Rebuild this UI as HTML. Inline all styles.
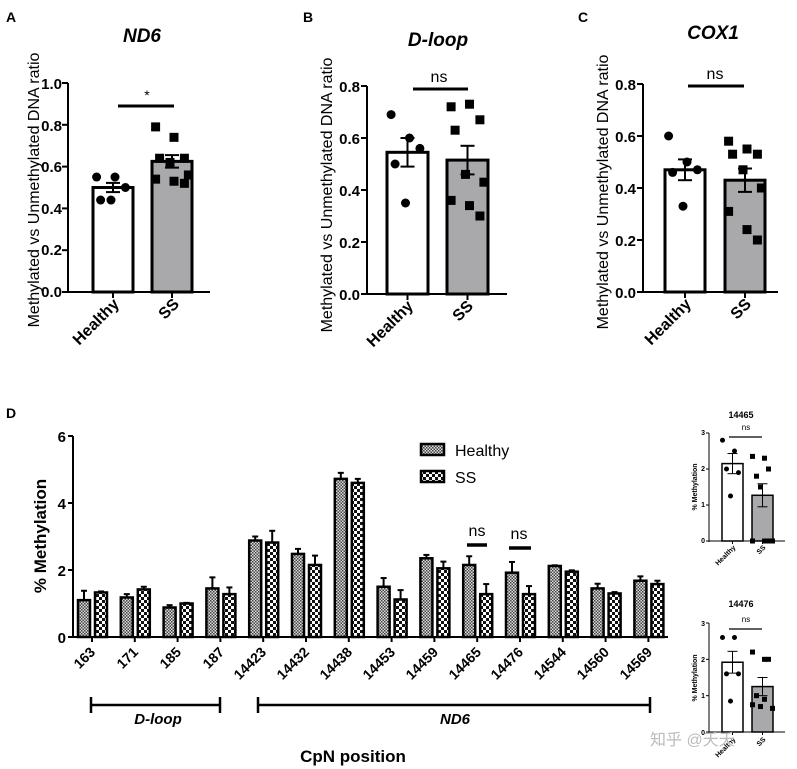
<!DOCTYPE html>
<html><head><meta charset="utf-8"><style>
html,body{margin:0;padding:0;background:#fff;}
svg{display:block;font-family:"Liberation Sans",Arial,sans-serif;}
.b{font-weight:bold;}
</style></head><body>
<svg id="s" width="797" height="769" viewBox="0 0 797 769" xmlns="http://www.w3.org/2000/svg">
<defs>
<pattern id="ph" width="3" height="3" patternUnits="userSpaceOnUse"><rect width="3" height="3" fill="#ddd"/><rect width="1.5" height="1.5" fill="#444"/><rect x="1.5" y="1.5" width="1.5" height="1.5" fill="#444"/></pattern>
<pattern id="ps" width="6" height="6" patternUnits="userSpaceOnUse"><rect width="6" height="6" fill="#fff"/><rect width="3" height="3" fill="#111"/><rect x="3" y="3" width="3" height="3" fill="#111"/></pattern>
</defs>
<g id="g"></g>
<text x="6" y="22" font-size="14" class="b">A</text>
<text x="303" y="22" font-size="14" class="b">B</text>
<text x="578" y="22" font-size="14" class="b">C</text>
<text x="6" y="418" font-size="14" class="b">D</text>
<text x="142" y="42" font-size="19" class="b" font-style="italic" text-anchor="middle">ND6</text>
<text x="438" y="46" font-size="19" class="b" font-style="italic" text-anchor="middle">D-loop</text>
<text x="713" y="39" font-size="19" class="b" font-style="italic" text-anchor="middle">COX1</text>
<text transform="translate(39,190) rotate(-90)" font-size="16" text-anchor="middle">Methylated vs Unmethylated DNA ratio</text>
<text transform="translate(332,195) rotate(-90)" font-size="16" text-anchor="middle">Methylated vs Unmethylated DNA ratio</text>
<text transform="translate(608,192) rotate(-90)" font-size="16" text-anchor="middle">Methylated vs Unmethylated DNA ratio</text>
<g font-size="15" class="b" text-anchor="end">
<text x="62" y="89">1.0</text><text x="62" y="131">0.8</text><text x="62" y="172">0.6</text><text x="62" y="214">0.4</text><text x="62" y="255">0.2</text><text x="62" y="297">0.0</text>
<text x="360" y="92">0.8</text><text x="360" y="144">0.6</text><text x="360" y="196">0.4</text><text x="360" y="248">0.2</text><text x="360" y="300">0.0</text>
<text x="636" y="90">0.8</text><text x="636" y="142">0.6</text><text x="636" y="194">0.4</text><text x="636" y="246">0.2</text><text x="636" y="298">0.0</text>
</g>
<g font-size="16" class="b" text-anchor="end">
<text transform="translate(120,305) rotate(-45)">Healthy</text>
<text transform="translate(180,305) rotate(-45)">SS</text>
<text transform="translate(414,307) rotate(-45)">Healthy</text>
<text transform="translate(474,307) rotate(-45)">SS</text>
<text transform="translate(692,305) rotate(-45)">Healthy</text>
<text transform="translate(752,305) rotate(-45)">SS</text>
</g>
<text x="147" y="100" font-size="14" text-anchor="middle">*</text>
<text x="439" y="82" font-size="16" text-anchor="middle">ns</text>
<text x="715" y="79" font-size="16" text-anchor="middle">ns</text>
<text transform="translate(46,536) rotate(-90)" font-size="17" class="b" text-anchor="middle">% Methylation</text>
<g font-size="15" class="b" text-anchor="end">
<text x="66" y="442">6</text><text x="66" y="509">4</text><text x="66" y="576">2</text><text x="66" y="643">0</text>
</g>
<g font-size="14" class="b" text-anchor="end">
<text transform="translate(96,653) rotate(-45)">163</text>
<text transform="translate(139,653) rotate(-45)">171</text>
<text transform="translate(182,653) rotate(-45)">185</text>
<text transform="translate(225,653) rotate(-45)">187</text>
<text transform="translate(267,653) rotate(-45)">14423</text>
<text transform="translate(310,653) rotate(-45)">14432</text>
<text transform="translate(353,653) rotate(-45)">14438</text>
<text transform="translate(396,653) rotate(-45)">14453</text>
<text transform="translate(439,653) rotate(-45)">14459</text>
<text transform="translate(482,653) rotate(-45)">14465</text>
<text transform="translate(524,653) rotate(-45)">14476</text>
<text transform="translate(567,653) rotate(-45)">14544</text>
<text transform="translate(610,653) rotate(-45)">14560</text>
<text transform="translate(653,653) rotate(-45)">14569</text>
</g>
<text x="455" y="456" font-size="16">Healthy</text>
<text x="455" y="483" font-size="16">SS</text>
<text x="477" y="536" font-size="16" text-anchor="middle">ns</text>
<text x="519" y="539" font-size="16" text-anchor="middle">ns</text>
<text x="158" y="724" font-size="15" class="b" font-style="italic" text-anchor="middle">D-loop</text>
<text x="455" y="724" font-size="15" class="b" font-style="italic" text-anchor="middle">ND6</text>
<text x="353" y="762" font-size="17" class="b" text-anchor="middle">CpN position</text>
<text x="741" y="418" font-size="9" class="b" text-anchor="middle">14465</text>
<text x="741" y="607" font-size="9" class="b" text-anchor="middle">14476</text>
<text x="746" y="430" font-size="8" text-anchor="middle">ns</text>
<text x="746" y="622" font-size="8" text-anchor="middle">ns</text>
<g font-size="7" class="b" text-anchor="end">
<text x="705" y="435">3</text><text x="705" y="471">2</text><text x="705" y="507">1</text><text x="705" y="543">0</text>
<text x="705" y="626">3</text><text x="705" y="662">2</text><text x="705" y="698">1</text><text x="705" y="735">0</text>
</g>
<text transform="translate(697,487) rotate(-90)" font-size="7" class="b" text-anchor="middle">% Methylation</text>
<text transform="translate(697,678) rotate(-90)" font-size="7" class="b" text-anchor="middle">% Methylation</text>
<g font-size="7" class="b" text-anchor="end">
<text transform="translate(736,548) rotate(-45)">Healthy</text>
<text transform="translate(766,548) rotate(-45)">SS</text>
<text transform="translate(736,740) rotate(-45)">Healthy</text>
<text transform="translate(766,740) rotate(-45)">SS</text>
</g>
<text x="650" y="745" font-size="16" fill="#bbb" font-family="'Liberation Sans','Noto Sans CJK SC',sans-serif">知乎 @夭夭</text>
</svg>
<script>
var g=document.getElementById('g'),NS='http://www.w3.org/2000/svg';
function el(t,a){var e=document.createElementNS(NS,t);for(var k in a)e.setAttribute(k,a[k]);g.appendChild(e);return e;}
function line(x1,y1,x2,y2,w){el('line',{x1:x1,y1:y1,x2:x2,y2:y2,stroke:'#000','stroke-width':w||2});}
function panel(o){
 var sy=function(v){return o.y0-(v/o.max)*(o.y0-o.ytop);};
 line(o.ax,o.ytop,o.ax,o.y0+1,o.lw);line(o.ax-1,o.y0,o.aend,o.y0,o.lw);
 for(var t=0;t<=o.max+1e-9;t+=o.step){line(o.ax-o.tk,sy(t),o.ax,sy(t),o.lw);}
 o.bars.forEach(function(b,i){
  var cx=b.x+b.w/2;line(cx,o.y0,cx,o.y0+o.tk,o.lw);
  el('rect',{x:b.x,y:sy(b.m),width:b.w,height:o.y0-sy(b.m),fill:b.f,stroke:'#000','stroke-width':o.bw});
  line(cx,sy(b.m-b.e),cx,sy(b.m+b.e),o.lw);
  line(cx-o.cap,sy(b.m+b.e),cx+o.cap,sy(b.m+b.e),o.lw);line(cx-o.cap,sy(b.m-b.e),cx+o.cap,sy(b.m-b.e),o.lw);
  b.p.forEach(function(p,j){var dx=((j%3)-1)*o.ps*1.6+(j%2?1:-1)*2;
   if(i==0)el('circle',{cx:cx+dx,cy:sy(p),r:o.ps/2,fill:'#000'});
   else el('rect',{x:cx+dx-o.ps/2,y:sy(p)-o.ps/2,width:o.ps,height:o.ps,fill:'#000'});});
 });
 if(o.sig)line(o.sig[0],o.sig[2],o.sig[1],o.sig[2],o.sw||3);
}
panel({ax:68,ytop:83,y0:292,max:1,step:0.2,aend:210,tk:6,lw:2,bw:3,cap:7,ps:9,sig:[118,174,106],
 bars:[{x:93,w:40,m:0.5,e:0.022,f:'#fff',p:[0.55,0.55,0.5,0.44,0.44]},{x:152,w:40,m:0.625,e:0.03,f:'#a9a9ab',p:[0.79,0.74,0.64,0.64,0.62,0.56,0.54,0.53,0.52]}]});
panel({ax:367,ytop:86,y0:294,max:0.8,step:0.2,aend:507,tk:6,lw:2,bw:3,cap:7,ps:9,sig:[413,468,89],
 bars:[{x:387,w:41,m:0.545,e:0.055,f:'#fff',p:[0.69,0.6,0.56,0.5,0.35]},{x:447,w:41,m:0.515,e:0.055,f:'#a9a9ab',p:[0.72,0.73,0.67,0.63,0.46,0.43,0.36,0.34,0.30]}]});
panel({ax:643,ytop:84,y0:292,max:0.8,step:0.2,aend:778,tk:6,lw:2,bw:3,cap:7,ps:9,sig:[688,744,86],
 bars:[{x:665,w:40,m:0.47,e:0.04,f:'#fff',p:[0.6,0.5,0.47,0.46,0.33]},{x:725,w:40,m:0.43,e:0.045,f:'#a9a9ab',p:[0.58,0.55,0.53,0.53,0.47,0.40,0.31,0.24,0.20]}]});
panel({ax:709,ytop:433,y0:541,max:3,step:1,aend:785,tk:3,lw:1,bw:1.5,cap:5,ps:5,sig:[729,762,437],sw:1.2,
 bars:[{x:722,w:21,m:2.15,e:0.28,f:'#fff',p:[2.8,2.5,1.9,2.0,1.25]},{x:752,w:21,m:1.27,e:0.32,f:'#a9a9ab',p:[2.35,2.3,2.0,1.8,1.5,0,0,0,0]}]});
panel({ax:709,ytop:623,y0:732,max:3,step:1,aend:785,tk:3,lw:1,bw:1.5,cap:5,ps:5,sig:[729,762,629],sw:1.2,
 bars:[{x:722,w:21,m:1.92,e:0.3,f:'#fff',p:[2.6,2.6,1.6,1.6,0.85]},{x:752,w:21,m:1.25,e:0.25,f:'#a9a9ab',p:[2.2,2.0,2.0,1.0,0.7,0.65,0.75,0.9]}]});
var ax=73,y0=637,ytop=436,k=33.5;
line(ax,ytop,ax,y0+1,2);line(ax-1,y0,668,y0,2);
for(var t=0;t<=6;t+=2)line(ax-5,y0-t*k,ax,y0-t*k,2);
var H=[1.1,1.18,0.88,1.45,2.88,2.48,4.72,1.5,2.35,2.15,1.92,2.12,1.45,1.68],He=[0.28,0.1,0.07,0.33,0.12,0.15,0.18,0.26,0.1,0.26,0.32,0.02,0.14,0.13];
var S=[1.33,1.42,1.0,1.28,2.82,2.15,4.6,1.12,2.05,1.28,1.28,1.95,1.3,1.58],Se=[0.03,0.08,0.02,0.2,0.35,0.28,0.12,0.28,0.2,0.3,0.24,0.04,0.04,0.1];
for(var i=0;i<14;i++){var c=92+42.8*i;line(c,y0,c,y0+5,2);
 [[c-14,H[i],He[i],'url(#ph)'],[c+3,S[i],Se[i],'url(#ps)']].forEach(function(a){
  var x=a[0],yv=y0-a[1]*k,ye=y0-(a[1]+a[2])*k;
  line(x+6,yv,x+6,ye,2);line(x+3,ye,x+9,ye,2);
  el('rect',{x:x,y:yv,width:12,height:y0-yv,fill:a[3],stroke:'#000','stroke-width':2.5});});}
el('rect',{x:421,y:444,width:23,height:11,fill:'url(#ph)',stroke:'#000','stroke-width':2.5});
el('rect',{x:421,y:471,width:23,height:11,fill:'url(#ps)',stroke:'#000','stroke-width':2.5});
line(467,545,487,545,3.5);line(509,548,531,548,3.5);
line(91,705,220,705,2.5);line(91,697,91,713,2.5);line(220,697,220,713,2.5);
line(258,705,650,705,2.5);line(258,697,258,713,2.5);line(650,697,650,713,2.5);
</script>
</body></html>
